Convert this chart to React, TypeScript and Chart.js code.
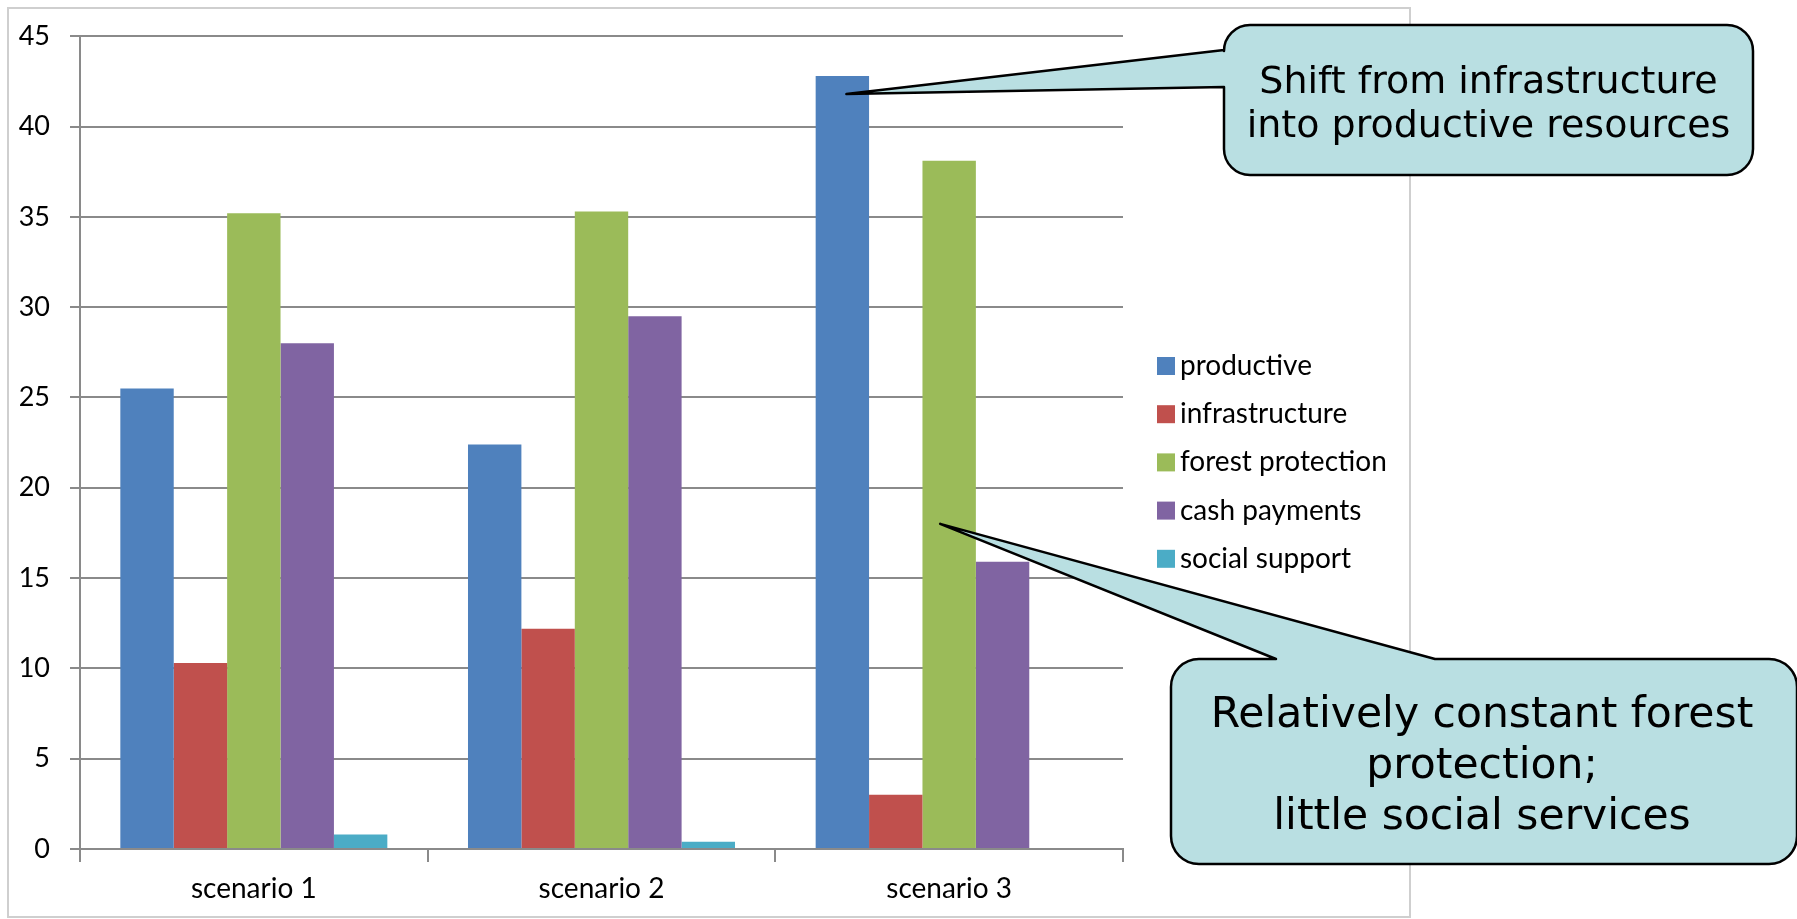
import React, { useEffect, useRef } from "react";
import { Chart, registerables } from "chart.js";

Chart.register(...registerables);

// ---- data ----
const categories = ["scenario 1", "scenario 2", "scenario 3"];
const seriesNames = ["productive", "infrastructure", "forest protection", "cash payments", "social support"];
const productive = [25.5, 22.4, 42.8];
const infrastructure = [10.3, 12.2, 3.0];
const forestProtection = [35.2, 35.3, 38.1];
const cashPayments = [28.0, 29.5, 15.9];
const socialSupport = [0.8, 0.4, 0];
const seriesColors = ["#4F81BD", "#C0504D", "#9BBB59", "#8064A2", "#4BACC6"];
const yMin = 0;
const yMax = 45;
const yStep = 5;
const callout1Lines = ["Shift from infrastructure", "into productive resources"];
const callout2Lines = ["Relatively constant forest", "protection;", "little social services"];
// values (on the y scale) where the callout pointers touch the bars
const callout1Target = { dataset: 0, index: 2, value: 41.8 };
const callout2Target = { dataset: 2, index: 2, value: 18.0 };

const AXIS_FONT = "Lato, 'Open Sans', sans-serif";
const CALLOUT_FONT = "'DejaVu Sans', Verdana, sans-serif";
const GRID = "#8a8a8a";
const CALLOUT_FILL = "#B9DFE2";
const TEXT = "#000";

function drawCallout1(ctx: CanvasRenderingContext2D, tipX: number, tipY: number) {
  const x = 1224, y = 25, w = 529, h = 150, r = 26;
  const y1 = 50, y2 = 87;
  ctx.beginPath();
  ctx.moveTo(x + r, y);
  ctx.lineTo(x + w - r, y);
  ctx.arcTo(x + w, y, x + w, y + r, r);
  ctx.lineTo(x + w, y + h - r);
  ctx.arcTo(x + w, y + h, x + w - r, y + h, r);
  ctx.lineTo(x + r, y + h);
  ctx.arcTo(x, y + h, x, y + h - r, r);
  ctx.lineTo(x, y2);
  ctx.lineTo(tipX, tipY);
  ctx.lineTo(x, y1);
  ctx.lineTo(x, y + r);
  ctx.arcTo(x, y, x + r, y, r);
  ctx.closePath();
  ctx.fillStyle = CALLOUT_FILL;
  ctx.fill();
  ctx.lineWidth = 2.5;
  ctx.strokeStyle = "#000";
  ctx.lineJoin = "round";
  ctx.stroke();
  ctx.fillStyle = "#000";
  ctx.font = `38px ${CALLOUT_FONT}`;
  ctx.textAlign = "center";
  ctx.textBaseline = "alphabetic";
  const cx = x + w / 2;
  callout1Lines.forEach((line, i) => ctx.fillText(line, cx, 93 + i * 44));
}

function drawCallout2(ctx: CanvasRenderingContext2D, tipX: number, tipY: number) {
  const x = 1171, y = 659, w = 626, h = 205, r = 28;
  const x1 = 1276, x2 = 1435;
  ctx.beginPath();
  ctx.moveTo(x + r, y);
  ctx.lineTo(x1, y);
  ctx.lineTo(tipX, tipY);
  ctx.lineTo(x2, y);
  ctx.lineTo(x + w - r, y);
  ctx.arcTo(x + w, y, x + w, y + r, r);
  ctx.lineTo(x + w, y + h - r);
  ctx.arcTo(x + w, y + h, x + w - r, y + h, r);
  ctx.lineTo(x + r, y + h);
  ctx.arcTo(x, y + h, x, y + h - r, r);
  ctx.lineTo(x, y + r);
  ctx.arcTo(x, y, x + r, y, r);
  ctx.closePath();
  ctx.fillStyle = CALLOUT_FILL;
  ctx.fill();
  ctx.lineWidth = 2.5;
  ctx.strokeStyle = "#000";
  ctx.lineJoin = "round";
  ctx.stroke();
  ctx.fillStyle = "#000";
  ctx.font = `42.5px ${CALLOUT_FONT}`;
  ctx.textAlign = "center";
  ctx.textBaseline = "alphabetic";
  const cx = 1482;
  callout2Lines.forEach((line, i) => ctx.fillText(line, cx, 727 + i * 51));
}

const framePlugin = {
  id: "frame",
  beforeDraw(chart: any) {
    const ctx = chart.ctx as CanvasRenderingContext2D;
    ctx.save();
    ctx.fillStyle = "#fff";
    ctx.fillRect(0, 0, chart.width, chart.height);
    ctx.strokeStyle = "#cfcfcf";
    ctx.lineWidth = 2;
    ctx.strokeRect(8, 8, 1402, 909);
    ctx.restore();
  },
};

const legendAndCalloutPlugin = {
  id: "legendCallouts",
  afterDraw(chart: any) {
    const ctx = chart.ctx as CanvasRenderingContext2D;
    ctx.save();
    // legend
    const lx = 1157, ly = 366, gap = 48.2, sq = 18;
    ctx.font = `28px ${AXIS_FONT}`;
    ctx.textAlign = "left";
    ctx.textBaseline = "middle";
    chart.data.datasets.forEach((ds: any, i: number) => {
      const cy = ly + i * gap;
      ctx.fillStyle = ds.backgroundColor;
      ctx.fillRect(lx, cy - sq / 2, sq, sq);
      ctx.fillStyle = TEXT;
      ctx.fillText(ds.label, lx + 23, cy);
    });
    // callouts anchored to bars
    const yScale = chart.scales.y;
    const b1 = chart.getDatasetMeta(callout1Target.dataset).data[callout1Target.index];
    const b2 = chart.getDatasetMeta(callout2Target.dataset).data[callout2Target.index];
    drawCallout1(ctx, b1.x + 4, yScale.getPixelForValue(callout1Target.value));
    drawCallout2(ctx, b2.x - 9, yScale.getPixelForValue(callout2Target.value));
    ctx.restore();
  },
};

export default function App() {
  const canvasRef = useRef<HTMLCanvasElement | null>(null);

  useEffect(() => {
    if (!canvasRef.current) return;
    const seriesValues = [productive, infrastructure, forestProtection, cashPayments, socialSupport];
    const chart = new Chart(canvasRef.current, {
      type: "bar",
      data: {
        labels: categories,
        datasets: seriesNames.map((name, i) => ({
          label: name,
          data: seriesValues[i],
          backgroundColor: seriesColors[i],
          borderWidth: 0,
          categoryPercentage: 0.768,
          barPercentage: 1.0,
        })),
      },
      options: {
        responsive: false,
        animation: false,
        devicePixelRatio: 1,
        layout: { padding: { top: 34, right: 674, left: 0, bottom: 0 } },
        plugins: {
          legend: { display: false },
          tooltip: { enabled: false },
          title: { display: false },
        },
        scales: {
          x: {
            afterFit: (scale: any) => {
              scale.height = 70;
            },
            grid: {
              display: true,
              offset: true,
              drawOnChartArea: false,
              drawTicks: true,
              tickLength: 13,
              color: GRID,
              lineWidth: 2,
            },
            border: { display: true, color: GRID, width: 2 },
            ticks: {
              color: TEXT,
              font: { family: AXIS_FONT, size: 28 },
              padding: 10,
              maxRotation: 0,
            },
          },
          y: {
            min: yMin,
            max: yMax,
            afterFit: (scale: any) => {
              scale.width = 80;
            },
            grid: {
              color: GRID,
              lineWidth: 2,
              drawTicks: true,
              tickLength: 10,
            },
            border: { display: true, color: GRID, width: 2 },
            ticks: {
              stepSize: yStep,
              color: TEXT,
              font: { family: AXIS_FONT, size: 27 },
              padding: 20,
            },
          },
        },
      },
      plugins: [framePlugin, legendAndCalloutPlugin],
    });
    return () => chart.destroy();
  }, []);

  return (
    <div style={{ position: "fixed", left: 0, top: 0, width: 1797, height: 919, background: "#fff" }}>
      <canvas ref={canvasRef} width={1797} height={919} style={{ display: "block", width: 1797, height: 919 }} />
    </div>
  );
}
